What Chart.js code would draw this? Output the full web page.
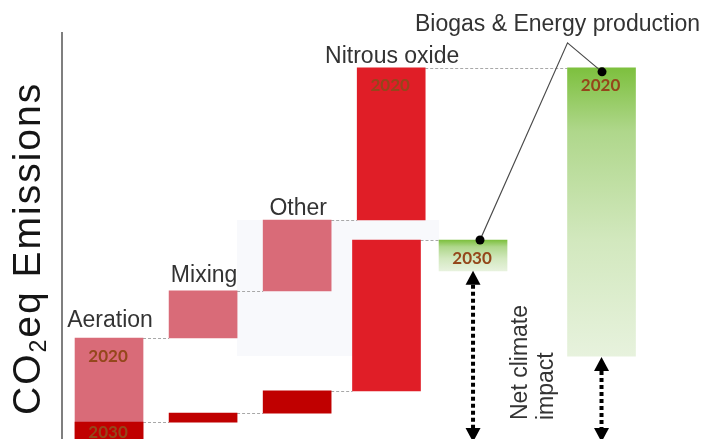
<!DOCTYPE html>
<html>
<head>
<meta charset="utf-8">
<script src="https://cdn.jsdelivr.net/npm/chart.js@4.4.1/dist/chart.umd.min.js"></script>
<style>
  html, body { margin: 0; padding: 0; background: #fff; overflow: hidden; width: 712px; height: 439px; }
  canvas { display: block; }
</style>
</head>
<body>
<canvas id="c" width="712" height="445"></canvas>
<script>
// Emission contribution of each source (CO2eq, relative units); the biogas credit is negative
const categories = ['Aeration', 'Mixing', 'Other', 'Nitrous oxide', 'Biogas & Energy production'];
const steps2020 = [25.6, 11.5, 17.3, 37.1, -70.3];
const steps2030 = [5.1, 2.2, 5.4, 36.8, -7.5];
const yearLabels = ['2020', '2030'];
// which bars carry a year tag
const tagged2020 = [true, false, false, true, true];
const tagged2030 = [true, false, false, false, true];
const axisTitle = ['CO', '2', 'eq Emissions'];
const impactLabel = ['Net climate', 'impact'];

// column slot of every bar along the x axis
const slots2020 = [0, 1, 2, 3, 5.236];
const slots2030 = [0, 1, 2, 2.95, 3.87];

const PINK = '#D96B78', RED = '#E01E27', DARK = '#C00000', CREDIT = 'credit';
const colors2020 = [PINK, PINK, PINK, RED, CREDIT];
const colors2030 = [DARK, DARK, DARK, RED, CREDIT];

// turn the steps into floating [from, to] bars
function waterfall(steps, slots) {
  let run = 0;
  return steps.map((s, i) => {
    const from = run;
    run += s;
    return { x: slots[i], y: [from, run] };
  });
}

function creditGradient(ctx) {
  const chart = ctx.chart;
  if (!chart.chartArea || !ctx.raw) return '#B7DB95';
  const ys = chart.scales.y;
  const top = ys.getPixelForValue(Math.max(...ctx.raw.y));
  const bot = ys.getPixelForValue(Math.min(...ctx.raw.y));
  const g = chart.ctx.createLinearGradient(0, top, 0, bot);
  g.addColorStop(0, '#7DC03E');
  g.addColorStop(0.22, '#AFD78B');
  g.addColorStop(0.6, '#D2E8BE');
  g.addColorStop(1, '#E7F2DD');
  return g;
}

function fill(palette) {
  return ctx => {
    if (ctx.type !== 'data') return palette[0];
    const c = palette[ctx.dataIndex];
    return c === CREDIT ? creditGradient(ctx) : c;
  };
}

function box(el) {
  const w = el.width;
  return { cx: el.x, left: el.x - w / 2, right: el.x + w / 2,
           top: Math.min(el.y, el.base), bottom: Math.max(el.y, el.base) };
}

function dottedArrow(c, x, yTop, yBot) {
  const head = 14, half = 7.5;
  c.save();
  c.fillStyle = '#000';
  c.strokeStyle = '#000';
  c.lineWidth = 4;
  c.setLineDash([4, 3]);
  c.beginPath();
  c.moveTo(x, yTop + head);
  c.lineTo(x, yBot - head);
  c.stroke();
  c.setLineDash([]);
  c.beginPath();
  c.moveTo(x, yTop); c.lineTo(x - half, yTop + head); c.lineTo(x + half, yTop + head); c.closePath();
  c.fill();
  c.beginPath();
  c.moveTo(x, yBot); c.lineTo(x - half, yBot - head); c.lineTo(x + half, yBot - head); c.closePath();
  c.fill();
  c.restore();
}

const decor = {
  id: 'decor',
  beforeDatasetsDraw(chart) {
    const c = chart.ctx, ys = chart.scales.y;
    const b20 = chart.getDatasetMeta(0).data.map(box);
    const b30 = chart.getDatasetMeta(1).data.map(box);
    // faint backdrop between the two waterfalls
    c.save();
    c.fillStyle = '#F8F9FC';
    c.fillRect(b20[1].right, b20[2].top, b30[3].left - b20[1].right, b20[4].bottom - b20[2].top);
    c.fillRect(b20[2].right, b20[2].top, b30[4].left - b20[2].right, b30[3].top - b20[2].top);
    c.restore();
    // connectors from the running total of one bar to the next
    c.save();
    c.strokeStyle = '#A8A8A8';
    c.lineWidth = 1;
    c.setLineDash([3, 2]);
    [[0, b20], [1, b30]].forEach(([di, bs]) => {
      const data = chart.data.datasets[di].data;
      for (let i = 0; i < bs.length - 1; i++) {
        const y = Math.round(ys.getPixelForValue(data[i].y[1])) + 0.5;
        c.beginPath();
        c.moveTo(bs[i].right, y);
        c.lineTo(bs[i + 1].left, y);
        c.stroke();
      }
    });
    c.restore();
  },
  afterDatasetsDraw(chart) {
    const c = chart.ctx, area = chart.chartArea, ys = chart.scales.y;
    const b20 = chart.getDatasetMeta(0).data.map(box);
    const b30 = chart.getDatasetMeta(1).data.map(box);
    const zero = ys.getPixelForValue(0);

    // category names above the 2020 bars
    const gaps = [11, 9, 5, 5];
    c.save();
    c.fillStyle = '#333';
    c.font = '23px "Liberation Sans", Arial, sans-serif';
    c.textAlign = 'center';
    c.textBaseline = 'alphabetic';
    for (let i = 0; i < 4; i++) {
      c.fillText(categories[i], b20[i].cx + 1, b20[i].top - gaps[i]);
    }
    const bio = b20[4], bio30 = b30[4];
    c.fillText(categories[4], bio.cx - 44, bio.top - 37);

    // year tags inside the bars
    c.fillStyle = '#94471B';
    c.font = 'bold 17px Lato, "Open Sans", sans-serif';
    c.textBaseline = 'middle';
    [[b20, tagged2020, yearLabels[0]], [b30, tagged2030, yearLabels[1]]].forEach(([bs, tags, txt]) => {
      bs.forEach((b, i) => {
        if (!tags[i]) return;
        const h = Math.min(zero, area.bottom) - b.top;
        c.fillText(txt, b.cx - 1, b.top + Math.min(18, h / 2));
      });
    });
    c.restore();

    // leader lines from the biogas label to both credit bars
    const apex = { x: bio.cx - 34, y: bio.top - 25 };
    const dot20 = { x: bio.cx + 0.5, y: bio.top + 4 };
    const dot30 = { x: bio30.cx + 7, y: bio30.top };
    c.save();
    c.strokeStyle = '#4a4a4a';
    c.lineWidth = 1.2;
    c.beginPath();
    c.moveTo(dot30.x, dot30.y); c.lineTo(apex.x, apex.y); c.lineTo(dot20.x, dot20.y);
    c.stroke();
    c.fillStyle = '#000';
    [dot20, dot30].forEach(d => { c.beginPath(); c.arc(d.x, d.y, 4.5, 0, Math.PI * 2); c.fill(); });
    c.restore();

    // net climate impact arrows
    dottedArrow(c, bio30.cx, bio30.bottom, zero - 1);
    dottedArrow(c, bio.cx, bio.bottom + 1, zero - 1);

    const mid = (bio30.cx + bio.cx) / 2;
    c.save();
    c.fillStyle = '#333';
    c.font = '23px "Liberation Sans", Arial, sans-serif';
    c.textAlign = 'left';
    c.textBaseline = 'alphabetic';
    c.translate(mid, zero - 23);
    c.rotate(-Math.PI / 2);
    c.fillText(impactLabel[0], 0, -10);
    c.fillText(impactLabel[1], 0, 16);
    c.restore();

    // y axis title with subscript
    c.save();
    c.fillStyle = '#151515';
    c.textAlign = 'left';
    c.textBaseline = 'alphabetic';
    c.translate(area.left - 22, area.bottom - 28);
    c.rotate(-Math.PI / 2);
    const big = '39px "Liberation Sans", Arial, sans-serif';
    const small = '23px "Liberation Sans", Arial, sans-serif';
    if ('letterSpacing' in c) c.letterSpacing = '2px';
    let x = 0;
    c.font = big; c.fillText(axisTitle[0], x, 0); x += c.measureText(axisTitle[0]).width;
    c.font = small; c.fillText(axisTitle[1], x, 6); x += c.measureText(axisTitle[1]).width;
    c.font = big; c.fillText(axisTitle[2], x, 0);
    c.restore();
  }
};

new Chart(document.getElementById('c'), {
  type: 'bar',
  data: {
    datasets: [
      { label: yearLabels[0], data: waterfall(steps2020, slots2020), backgroundColor: fill(colors2020),
        order: 1, grouped: false, barThickness: 68 },
      { label: yearLabels[1], data: waterfall(steps2030, slots2030), backgroundColor: fill(colors2030),
        order: 0, grouped: false, barThickness: 68 }
    ]
  },
  options: {
    responsive: false,
    animation: false,
    events: [],
    layout: { padding: { left: 62, top: 33, right: 1, bottom: 2 } },
    plugins: { legend: { display: false }, tooltip: { enabled: false } },
    scales: {
      x: { type: 'linear', min: -0.5, max: 6.4, offset: false, display: false },
      y: {
        min: 0, max: 100,
        afterFit: s => { s.width = 0; },
        ticks: { display: false },
        grid: { display: false, drawTicks: false },
        border: { display: true, color: '#7F7F7F', width: 2 }
      }
    }
  },
  plugins: [decor]
});
</script>
</body>
</html>
